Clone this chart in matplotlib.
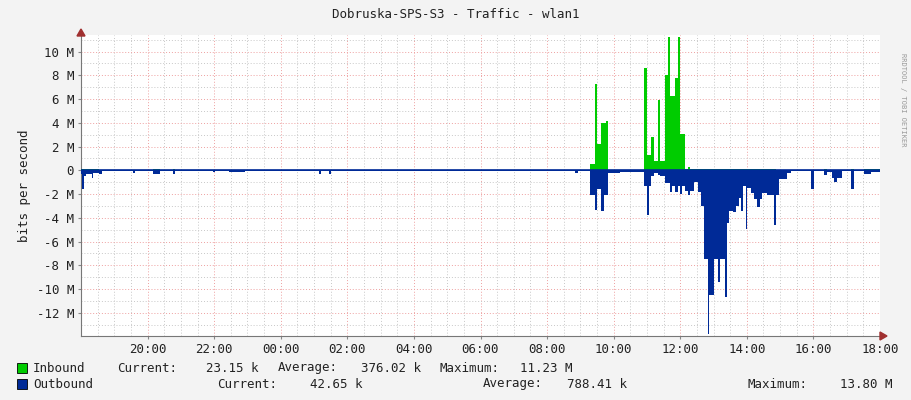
import matplotlib
matplotlib.use("Agg")
import matplotlib.pyplot as plt
import numpy as np

# hours since 18:00, inbound (Mbit/s), outbound (Mbit/s, negative)
t_hours = [0.00,0.02,0.08,0.15,0.32,0.37,0.55,0.62,1.55,1.62,2.15,2.38,2.75,2.82,3.95,4.02,4.45,4.92,
           7.15,7.22,7.45,7.52,14.85,14.92,
           15.30,15.45,15.50,15.62,15.72,15.77,15.82,15.97,16.20,
           16.92,17.00,17.05,17.12,17.22,17.32,17.39,17.55,17.62,17.70,17.75,17.85,17.92,18.00,18.04,
           18.14,18.22,18.29,18.42,18.52,18.62,18.72,18.82,18.87,19.00,19.12,19.19,19.34,19.40,19.47,
           19.59,19.67,19.75,19.82,19.89,19.97,20.02,20.12,20.22,20.32,20.39,20.47,20.62,20.82,20.87,
           20.97,21.22,21.32,21.92,22.02,22.32,22.42,22.57,22.62,22.72,22.87,23.12,23.22,23.52,23.72,24.0]
inbound = [0.15,0.15,0.15,0.10,0.10,0.10,0.05,0.03,0.0,0.0,0.15,0.02,0.12,0.02,0.0,0.0,0.0,0.0,
           0.0,0.0,0.0,0.0,0.0,0.0,
           0.5,7.25,2.2,4.0,4.0,4.15,0.05,0.05,0.03,
           8.6,1.3,1.3,2.85,0.8,5.9,0.8,8.0,11.2,6.3,6.3,7.8,11.23,3.1,3.1,
           0.15,0.3,0.15,0.1,0.1,0.15,0.15,0.15,0.15,0.1,0.1,0.1,0.1,0.15,0.1,
           0.1,0.1,0.1,0.1,0.1,0.1,0.1,0.1,0.1,0.1,0.1,0.1,0.1,0.1,0.05,
           0.02,0.0,0.0,0.05,0.0,0.08,0.03,0.05,0.05,0.05,0.0,0.08,0.0,0.08,0.12,0.12]
outbound = [-0.3,-1.55,-0.5,-0.3,-0.65,-0.2,-0.3,-0.05,-0.25,-0.05,-0.3,-0.05,-0.3,-0.05,-0.15,-0.05,-0.15,-0.05,
            -0.3,-0.05,-0.3,-0.05,-0.25,-0.05,
            -2.05,-3.3,-1.6,-3.4,-2.05,-2.05,-0.2,-0.25,-0.1,
            -1.3,-3.8,-1.3,-0.45,-0.2,-0.4,-0.45,-1.05,-1.05,-1.8,-1.3,-1.8,-1.3,-2.0,-1.3,
            -1.7,-2.05,-1.7,-1.0,-1.85,-3.0,-7.45,-13.8,-10.5,-7.45,-9.4,-7.45,-10.65,-4.4,-3.4,
            -3.5,-3.0,-2.3,-3.4,-1.3,-4.9,-1.5,-1.9,-2.4,-3.1,-2.4,-1.9,-2.05,-4.6,-2.05,
            -0.75,-0.2,-0.05,-1.55,-0.05,-0.35,-0.15,-0.65,-1.0,-0.65,-0.05,-1.55,-0.05,-0.3,-0.1,-0.1]

x_tick_pos = [2,4,6,8,10,12,14,16,18,20,22,24]
x_tick_labels = ["20:00","22:00","00:00","02:00","04:00","06:00","08:00","10:00","12:00","14:00","16:00","18:00"]
y_ticks = [-12,-10,-8,-6,-4,-2,0,2,4,6,8,10]
y_tick_labels = ["-12 M","-10 M","-8 M","-6 M","-4 M","-2 M","0","2 M","4 M","6 M","8 M","10 M"]

plt.rcParams['font.family'] = ['DejaVu Sans Mono']
fs = 9
fig = plt.figure(figsize=(9.11, 4.0), dpi=100, facecolor="#f3f3f3")
ax = fig.add_axes([81/911, 1-336/400, 799/911, 301/400])
ax.set_facecolor("white")
ax.set_xlim(0, 24)
ax.set_ylim(-13.95, 11.4)

GREEN = "#00cc00"; BLUE = "#002a97"
ax.fill_between(t_hours, inbound, 0, step="post", color=GREEN, lw=0, zorder=3)
ax.fill_between(t_hours, outbound, 0, step="post", color=BLUE, lw=0, zorder=3)
ax.axhline(0, color=BLUE, lw=1.2, zorder=4)

for v in np.arange(0.5, 24, 0.5):
    if v % 2 != 0:
        ax.axvline(v, color="#c8c8c8", lw=0.7, ls=(0, (1, 2)), zorder=1)
for v in x_tick_pos:
    ax.axvline(v, color="#eea0a0", lw=0.7, ls=(0, (1, 2)), zorder=1)
for v in range(-13, 12):
    if v % 2 != 0:
        ax.axhline(v, color="#c8c8c8", lw=0.7, ls=(0, (1, 2)), zorder=1)
for v in y_ticks:
    ax.axhline(v, color="#eea0a0", lw=0.7, ls=(0, (1, 2)), zorder=1)

ax.set_xticks(x_tick_pos)
ax.set_xticklabels(x_tick_labels, fontsize=fs, color="#222")
ax.set_yticks(y_ticks)
ax.set_yticklabels(y_tick_labels, fontsize=fs, color="#222")
ax.tick_params(length=2, color="#888", pad=3)
for s in ["top", "right"]:
    ax.spines[s].set_visible(False)
for s in ["left", "bottom"]:
    ax.spines[s].set_color("#777")
ax.set_ylabel("bits per second", fontsize=fs, color="#222")

fig.patches.append(matplotlib.patches.Polygon([[880/911, 1-332/400],[887/911, 1-336/400],[880/911, 1-340/400]],
                   closed=True, color="#a03030", transform=fig.transFigure))
fig.patches.append(matplotlib.patches.Polygon([[77/911, 1-36/400],[81/911, 1-29/400],[85/911, 1-36/400]],
                   closed=True, color="#a03030", transform=fig.transFigure))

fig.text(0.5, 1-15/400, "Dobruska-SPS-S3 - Traffic - wlan1", ha="center", va="center", fontsize=fs, color="#222")
fig.text(903/911, 0.75, "RRDTOOL / TOBI OETIKER", rotation=270, ha="center", va="center", fontsize=5, color="#999")

legend_rows = [
    (368, GREEN, [(33, "left", "Inbound"), (117, "left", "Current:"), (259, "right", "23.15 k"),
                  (278, "left", "Average:"), (421, "right", "376.02 k"), (440, "left", "Maximum:"),
                  (573, "right", "11.23 M")]),
    (384, BLUE, [(33, "left", "Outbound"), (217, "left", "Current:"), (362, "right", "42.65 k"),
                 (483, "left", "Average:"), (627, "right", "788.41 k"), (748, "left", "Maximum:"),
                 (892, "right", "13.80 M")]),
]
for yy, col, items in legend_rows:
    fig.patches.append(matplotlib.patches.Rectangle((17/911, 1-(yy+5)/400), 10/911, 10/400, facecolor=col,
                       edgecolor="black", lw=0.6, transform=fig.transFigure))
    for xx, ha, txt in items:
        fig.text(xx/911, 1-yy/400, txt, ha=ha, va="center", fontsize=fs, color="#222")

fig.savefig("out.png", dpi=100, facecolor=fig.get_facecolor())
